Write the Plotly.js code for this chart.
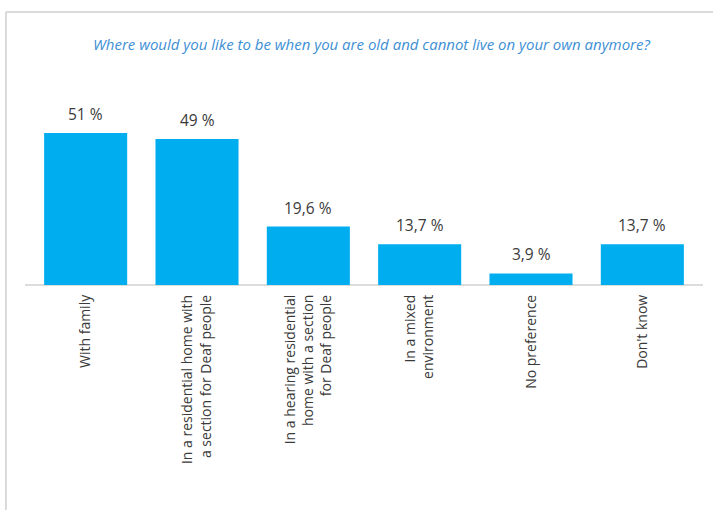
<!DOCTYPE html>
<html>
<head>
<meta charset="utf-8">
<script src="https://cdn.plot.ly/plotly-3.0.1.min.js"></script>
<style>html,body{margin:0;padding:0;background:#fff;}#chart{width:713px;height:510px;}</style>
</head>
<body>
<div id="chart"></div>
<script>
const categories = [
  "With family",
  "In a residential home with<br>a section for Deaf people",
  "In a hearing residential<br>home with a section<br>for Deaf people",
  "In a mixed<br>environment",
  "No preference",
  "Don't know"
];
const values = [51, 49, 19.6, 13.7, 3.9, 13.7];
const valueLabels = values.map(v => String(v).replace('.', ',') + ' %');
const titleText = "Where would you like to be when you are old and cannot live on your own anymore?";

const FONT = "Open Sans, sans-serif";

const trace = {
  type: 'bar',
  x: categories,
  y: values,
  marker: {color: '#00ADEE'},
  hoverinfo: 'none'
};

const annotations = categories.map((c, i) => ({
  x: c, y: values[i], xref: 'x', yref: 'y',
  text: valueLabels[i],
  showarrow: false,
  xanchor: 'center', yanchor: 'bottom',
  yshift: 6,
  font: {family: FONT, size: 15.5, color: '#3a3a3a'}
}));

const layout = {
  width: 713,
  height: 510,
  margin: {l: 30, r: 15, t: 60, b: 225},
  paper_bgcolor: '#ffffff',
  plot_bgcolor: '#ffffff',
  showlegend: false,
  bargap: 0.254,
  title: {
    text: '<i>' + titleText + '</i>',
    font: {family: FONT, size: 15, color: '#3d8fd4'},
    x: 0.521, xanchor: 'center',
    y: 0.913, yanchor: 'middle'
  },
  xaxis: {
    type: 'category',
    showline: false,
    showgrid: false,
    zeroline: false,
    ticks: '',
    tickangle: -90,
    ticklabelstandoff: 6,
    tickfont: {family: FONT, size: 14, color: '#3a3a3a'},
    automargin: false
  },
  yaxis: {
    range: [0, 75.5],
    visible: false,
    showgrid: false,
    zeroline: false
  },
  annotations: annotations,
  shapes: [
    {type: 'line', xref: 'paper', yref: 'paper', x0: -0.0075, x1: 1.0075, y0: 0, y1: 0,
     line: {color: '#dcdcdc', width: 2}, layer: 'below'},
    {type: 'line', xref: 'paper', yref: 'paper', x0: -0.036, x1: 1.03, y0: 1.2133, y1: 1.2133,
     line: {color: '#cfcfcf', width: 1.5}},
    {type: 'line', xref: 'paper', yref: 'paper', x0: -0.036, x1: -0.036, y0: 1.2133, y1: -1.05,
     line: {color: '#cfcfcf', width: 1.5}}
  ]
};

Plotly.newPlot('chart', [trace], layout, {displayModeBar: false, staticPlot: true});
</script>
</body>
</html>
